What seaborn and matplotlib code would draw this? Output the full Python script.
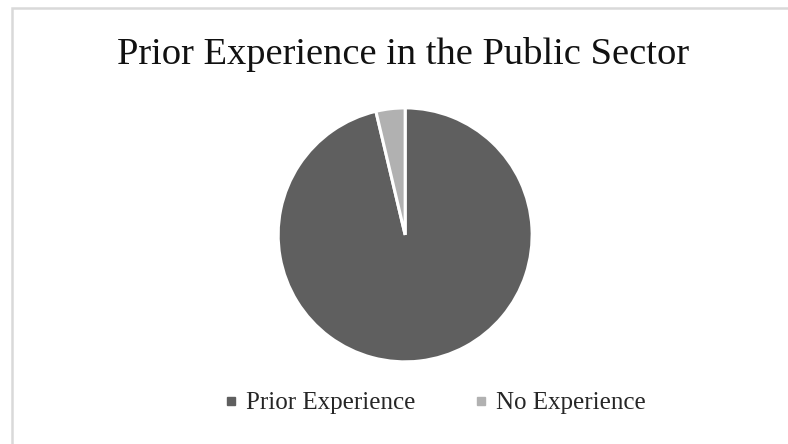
import matplotlib
matplotlib.use("Agg")
from matplotlib import pyplot as plt
from matplotlib.lines import Line2D
from matplotlib.patches import Rectangle
import seaborn as sns

# data
labels = ["Prior Experience", "No Experience"]
shares = [96.3, 3.7]
colors = ["#5f5f5f", "#b1b1b1"]
title = "Prior Experience in the Public Sector"

sns.set_theme(style="white")
plt.rcParams["font.family"] = ["Liberation Serif", "DejaVu Serif"]

fig = plt.figure(figsize=(7.88, 4.44), dpi=100)

# light grey chart border (top and left visible)
fig.patches.append(Rectangle((11.5 / 788, -0.01), 1.2, (444 - 8.5) / 444 + 0.01,
                             transform=fig.transFigure, fill=False,
                             edgecolor="#d9d9d9", linewidth=1.8))

ax = fig.add_axes([0.353, 0.185, 0.3223, 0.572])
ax.pie(shares, colors=colors, startangle=90, counterclock=False, radius=1,
       wedgeprops=dict(edgecolor="white", linewidth=2.2))
ax.set_xlim(-1, 1)
ax.set_ylim(-1, 1)
ax.set_aspect("equal")
ax.axis("off")

fig.text(0.511, 0.856, title, ha="center", va="baseline", fontsize=27.7, color="#111111")

#legend with small squares
handles = [Line2D([], [], marker="s", linestyle="", markersize=6, color=c) for c in colors]
fig.legend(handles, labels, loc="center", bbox_to_anchor=(0.55, 0.092), ncol=2,
           frameon=False, fontsize=18, handletextpad=0.2, columnspacing=2.2,
           handlelength=0.8)

fig.savefig("out.png", dpi=100)
